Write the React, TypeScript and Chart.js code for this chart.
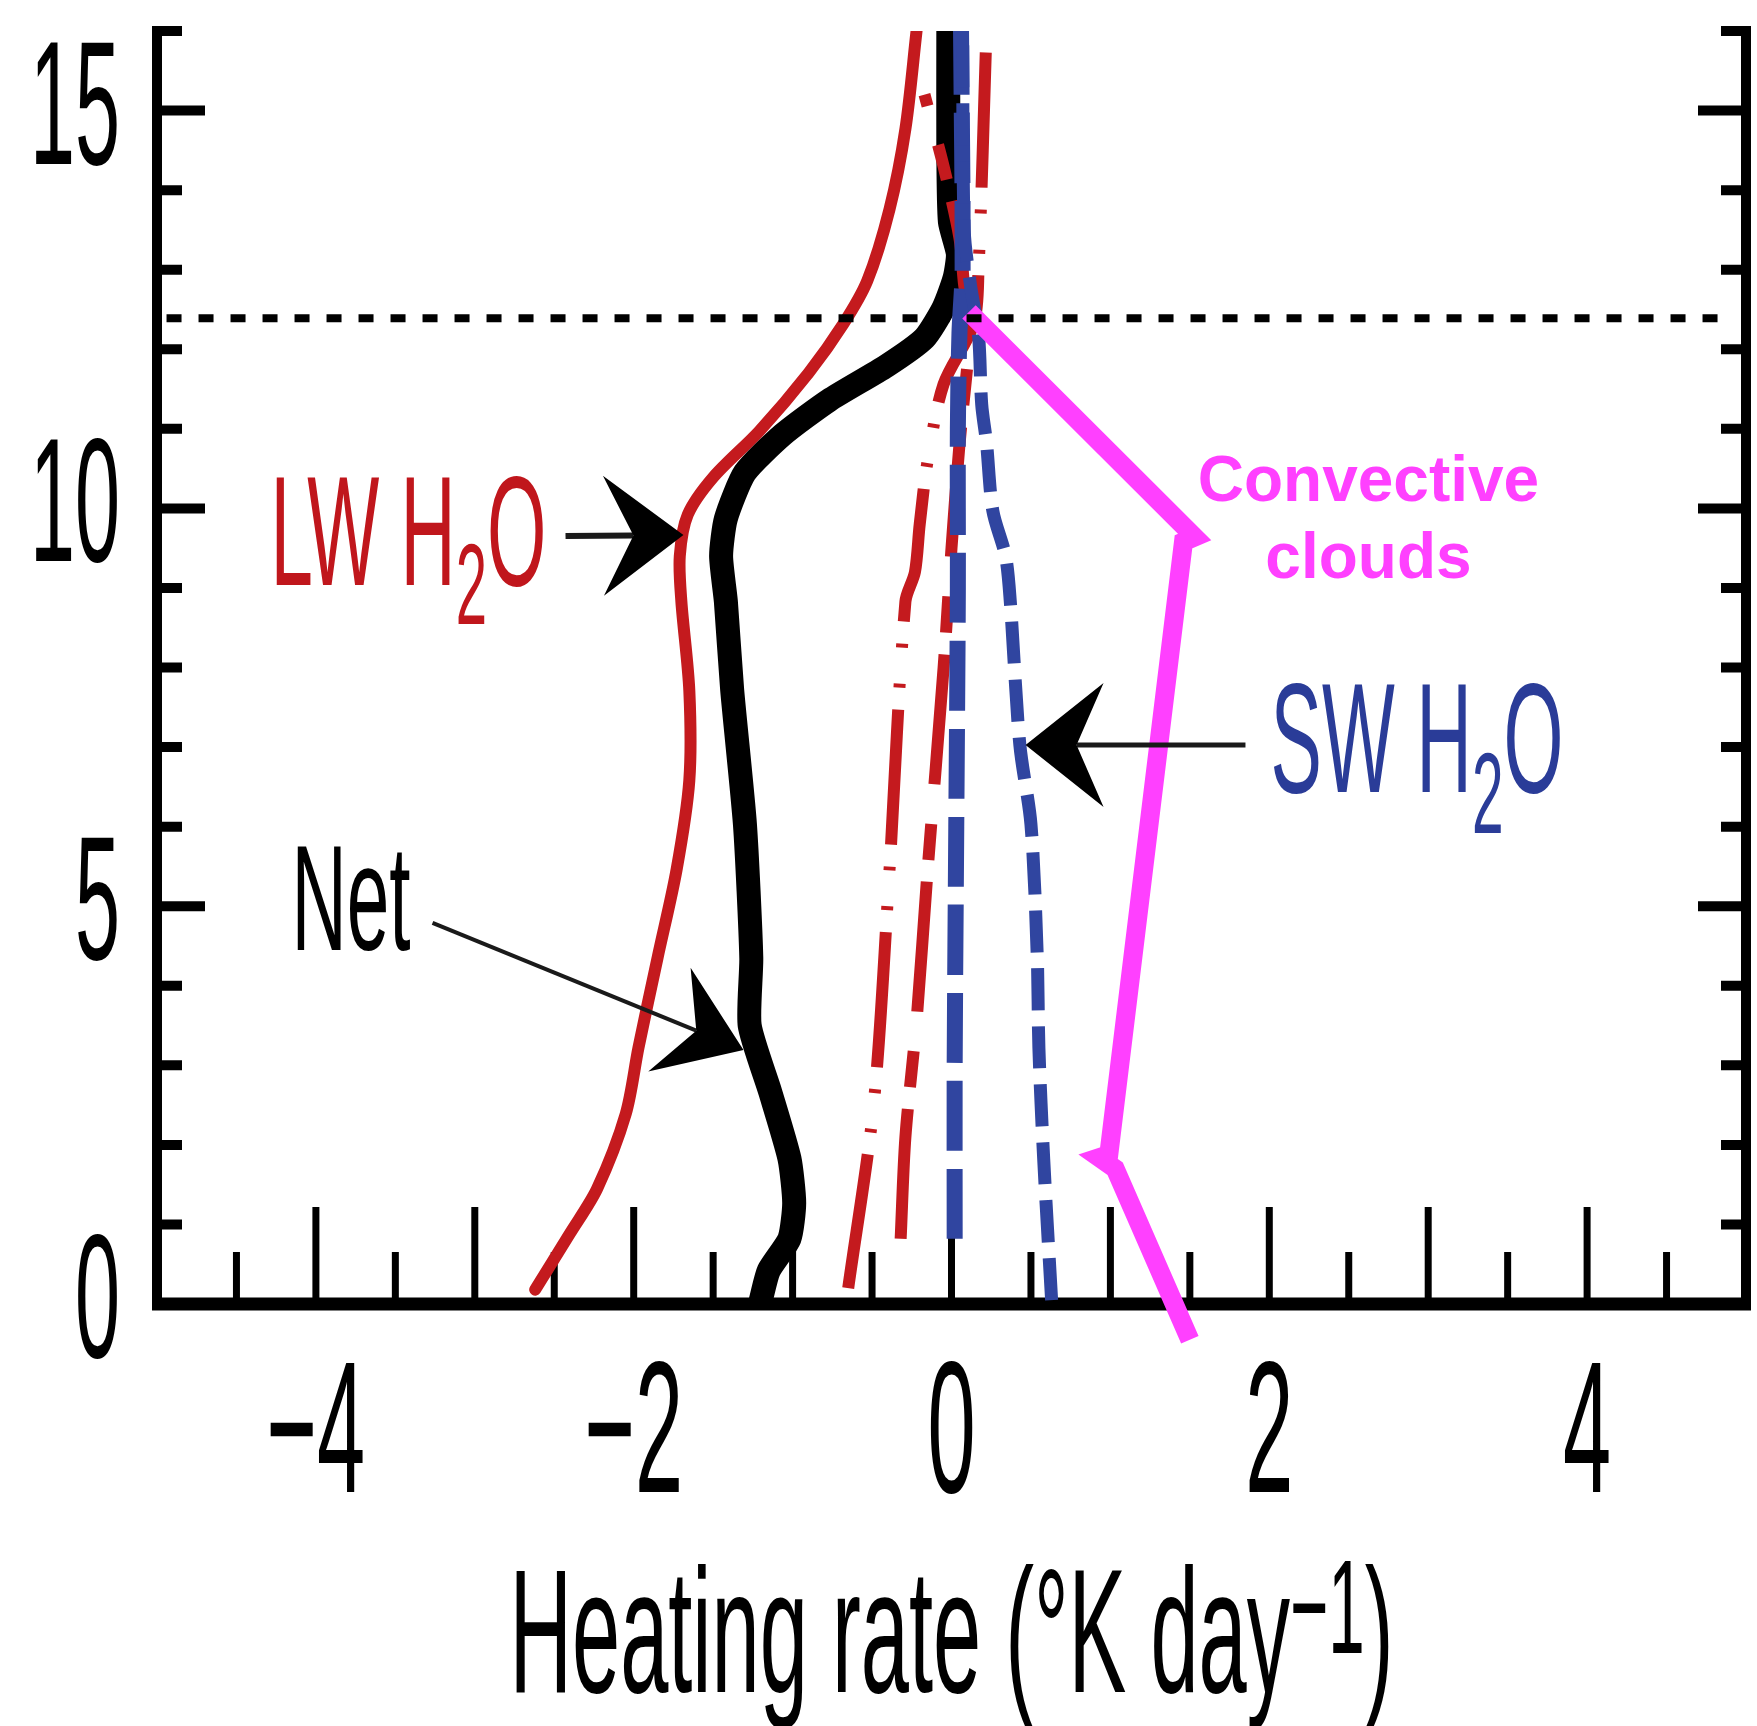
import React, { useEffect, useRef } from "react";
import { Chart, registerables } from "chart.js";

Chart.register(...registerables);

const W = 1757;
const H = 1726;

// ---------- axis ranges & ticks ----------
const X_RANGE = [-5, 5];
const Y_RANGE = [0, 16];
const X_TICK_LABELS = [-4, -2, 0, 2, 4];
const Y_TICK_LABELS = [0, 5, 10, 15];
const X_MINOR_TICKS = [-4.5, -4, -3.5, -3, -2.5, -2, -1.5, -1, -0.5, 0, 0.5, 1, 1.5, 2, 2.5, 3, 3.5, 4, 4.5];
const Y_MINOR_TICKS = [1, 2, 3, 4, 5, 6, 7, 8, 9, 10, 11, 12, 13, 14, 15, 16];
const X_TITLE = "Heating rate (°K day";
const X_TITLE_SUP = "−1";

// ---------- series: [heating rate, altitude km] ----------
const LW_H2O: [number, number][] = [
  [-2.62, 0.18], [-2.4, 0.89], [-2.23, 1.45], [-2.05, 2.39], [-1.97, 3.22], [-1.85, 4.35],
  [-1.73, 5.46], [-1.65, 6.58], [-1.65, 7.71], [-1.7, 8.83], [-1.71, 9.4], [-1.66, 9.92],
  [-1.5, 10.39], [-1.21, 10.97], [-0.9, 11.7], [-0.68, 12.32], [-0.53, 12.86], [-0.39, 13.76],
  [-0.29, 14.77], [-0.22, 16.0],
];
const NET: [number, number][] = [
  [-1.2, 0.05], [-1.15, 0.42], [-1.02, 0.82], [-0.99, 1.27], [-1.02, 1.83], [-1.14, 2.66],
  [-1.27, 3.5], [-1.26, 4.35], [-1.3, 6.03], [-1.38, 7.71], [-1.42, 8.83], [-1.45, 9.4],
  [-1.42, 9.87], [-1.3, 10.45], [-1.06, 10.93], [-0.77, 11.36], [-0.41, 11.79], [-0.17, 12.14],
  [-0.05, 12.52], [0.02, 12.9], [0.04, 13.2], [-0.01, 13.6], [-0.02, 14.5], [-0.02, 16.0],
];
const SW_H2O: [number, number][] = [
  [0.63, 0.05], [0.58, 1.83], [0.55, 3.22], [0.54, 4.35], [0.5, 6.03], [0.43, 7.03],
  [0.37, 8.83], [0.34, 9.4], [0.26, 9.97], [0.22, 10.83], [0.19, 11.31], [0.17, 12.18],
  [0.12, 12.8], [0.08, 13.5], [0.07, 16.0],
];
const SW_OTHER: [number, number][] = [
  [0.02, 0.82], [0.02, 3.0], [0.03, 6.0], [0.04, 9.0], [0.04, 11.0], [0.05, 12.2],
  [0.07, 13.0], [0.06, 16.0],
];
const LW_OTHER_A: [number, number][] = [
  [-0.65, 0.2], [-0.49, 2.5], [-0.39, 5.46], [-0.29, 8.83], [-0.23, 9.2], [-0.2, 9.8],
  [-0.15, 10.6], [-0.05, 11.56], [0.14, 12.32], [0.17, 13.0], [0.22, 16.0],
];
const LW_OTHER_B: [number, number][] = [
  [-0.32, 0.82], [-0.29, 2.1], [-0.22, 3.56], [-0.15, 5.46], [-0.05, 7.99], [0.0, 9.5],
  [0.05, 10.8], [0.1, 11.8], [0.12, 12.3], [0.08, 12.8], [0.05, 13.4], [-0.05, 14.3],
  [-0.17, 15.2],
];
const CONVECTIVE: [number, number][] = [
  [0.11, 12.47], [1.53, 9.64], [1.46, 9.58], [0.99, 1.88], [0.93, 1.84], [1.03, 1.7], [1.5, -0.45],
];
const TROPOPAUSE: [number, number][] = [[-4.94, 12.39], [4.83, 12.39]];

// ---------- annotations (data coords) ----------
const LW_LABEL_AT = [-4.286, 9.04];
const SW_LABEL_AT = [2.008, 6.435];
const NET_LABEL_AT = [-4.154, 4.449];
const CONV_LABEL_AT = [2.624, 10.09, 9.125];
const LW_ARROW = [[-2.429, 9.653], [-1.687, 9.666]];
const NET_ARROW = [[-3.266, 4.789], [-1.309, 3.193]];
const SW_ARROW = [[1.85, 7.026], [0.466, 7.026]];

const RED = "#c41a1e";
const RED_TXT = "#c0161c";
const BLUE = "#3045a0";
const BLUE_TXT = "#2a3c98";
const MAGENTA = "#ff40ff";
const FONT = '"Liberation Sans", Arial, Helvetica, sans-serif';

type Part = { t: string; size: number; dy?: number; weight?: string };

function measureParts(ctx: CanvasRenderingContext2D, parts: Part[]) {
  return parts.map((p) => {
    ctx.font = `${p.weight || "normal"} ${p.size}px ${FONT}`;
    return ctx.measureText(p.t).width;
  });
}

function drawParts(
  ctx: CanvasRenderingContext2D,
  parts: Part[],
  x: number,
  y: number,
  opts: { sx?: number; fitWidth?: number; align?: "left" | "center" | "right"; color: string }
) {
  const widths = measureParts(ctx, parts);
  const total = widths.reduce((a, b) => a + b, 0);
  const sx = opts.fitWidth ? opts.fitWidth / total : opts.sx ?? 1;
  const align = opts.align || "left";
  ctx.save();
  ctx.translate(x, y);
  ctx.scale(sx, 1);
  let cx = align === "left" ? 0 : align === "center" ? -total / 2 : -total;
  ctx.textAlign = "left";
  ctx.textBaseline = "alphabetic";
  ctx.fillStyle = opts.color;
  parts.forEach((p, i) => {
    ctx.font = `${p.weight || "normal"} ${p.size}px ${FONT}`;
    ctx.fillText(p.t, cx, p.dy || 0);
    cx += widths[i];
  });
  ctx.restore();
}

function drawArrow(
  ctx: CanvasRenderingContext2D,
  x0: number, y0: number, x1: number, y1: number,
  len: number, half: number, notch: number, lw: number
) {
  const dx = x1 - x0, dy = y1 - y0;
  const L = Math.hypot(dx, dy);
  const ux = dx / L, uy = dy / L, px = -uy, py = ux;
  ctx.save();
  ctx.strokeStyle = "#1a1a1a";
  ctx.lineWidth = lw;
  ctx.beginPath();
  ctx.moveTo(x0, y0);
  ctx.lineTo(x1 - ux * notch, y1 - uy * notch);
  ctx.stroke();
  ctx.fillStyle = "#000";
  ctx.beginPath();
  ctx.moveTo(x1, y1);
  ctx.lineTo(x1 - ux * len + px * half, y1 - uy * len + py * half);
  ctx.lineTo(x1 - ux * notch, y1 - uy * notch);
  ctx.lineTo(x1 - ux * len - px * half, y1 - uy * len - py * half);
  ctx.closePath();
  ctx.fill();
  ctx.restore();
}

const axesPlugin = {
  id: "axesDecor",
  beforeDatasetsDraw(chart: any) {
    const { ctx, scales } = chart;
    const xs = scales.x, ys = scales.y;
    const left = xs.getPixelForValue(X_RANGE[0]);
    const right = xs.getPixelForValue(X_RANGE[1]);
    const bottom = ys.getPixelForValue(Y_RANGE[0]);
    const top = ys.getPixelForValue(Y_RANGE[1]);
    ctx.save();
    ctx.strokeStyle = "#000";
    ctx.lineCap = "butt";
    ctx.lineWidth = 10;
    ctx.beginPath();
    ctx.moveTo(left, top - 5);
    ctx.lineTo(left, bottom);
    ctx.moveTo(right, top - 5);
    ctx.lineTo(right, bottom);
    ctx.stroke();
    Y_MINOR_TICKS.forEach((v) => {
      const py = ys.getPixelForValue(v);
      const major = v % 5 === 0;
      const len = major ? 48 : 25;
      ctx.lineWidth = 10;
      ctx.beginPath();
      ctx.moveTo(left, py);
      ctx.lineTo(left + len, py);
      ctx.moveTo(right, py);
      ctx.lineTo(right - len, py);
      ctx.stroke();
    });
    X_MINOR_TICKS.forEach((v) => {
      const px = xs.getPixelForValue(v);
      const major = Number.isInteger(v);
      ctx.lineWidth = 7;
      ctx.beginPath();
      ctx.moveTo(px, bottom);
      ctx.lineTo(px, bottom - (major ? 97 : 52));
      ctx.stroke();
    });
    ctx.lineWidth = 13;
    ctx.beginPath();
    ctx.moveTo(left - 5, bottom);
    ctx.lineTo(right + 5, bottom);
    ctx.stroke();
    ctx.restore();

    X_TICK_LABELS.forEach((v) => {
      const label = v < 0 ? "−" + Math.abs(v) : String(v);
      drawParts(ctx, [{ t: label, size: 188 }], xs.getPixelForValue(v), bottom + 188, {
        sx: 0.46, align: "center", color: "#000",
      });
    });
    Y_TICK_LABELS.forEach((v) => {
      drawParts(ctx, [{ t: String(v), size: 176 }], left - 37, ys.getPixelForValue(v) + 53, {
        sx: 0.46, align: "right", color: "#000",
      });
    });
    drawParts(
      ctx,
      [
        { t: X_TITLE, size: 177 },
        { t: X_TITLE_SUP, size: 134, dy: -39 },
        { t: ")", size: 177 },
      ],
      xs.getPixelForValue(0),
      bottom + 388,
      { fitWidth: 884, align: "center", color: "#000" }
    );
  },
  afterDatasetsDraw(chart: any) {
    const { ctx, scales } = chart;
    const xs = scales.x, ys = scales.y;
    const P = (p: number[]) => [xs.getPixelForValue(p[0]), ys.getPixelForValue(p[1])];

    let [lx, ly] = P(LW_LABEL_AT);
    drawParts(
      ctx,
      [{ t: "LW H", size: 156 }, { t: "2", size: 115, dy: 39 }, { t: "O", size: 156 }],
      lx, ly, { fitWidth: 276, color: RED_TXT }
    );
    [lx, ly] = P(SW_LABEL_AT);
    drawParts(
      ctx,
      [{ t: "SW H", size: 156 }, { t: "2", size: 115, dy: 41 }, { t: "O", size: 156 }],
      lx, ly, { fitWidth: 293, color: BLUE_TXT }
    );
    [lx, ly] = P(NET_LABEL_AT);
    drawParts(ctx, [{ t: "Net", size: 151 }], lx, ly, { fitWidth: 119, color: "#000" });

    const cx = xs.getPixelForValue(CONV_LABEL_AT[0]);
    drawParts(ctx, [{ t: "Convective", size: 64, weight: "bold" }], cx, ys.getPixelForValue(CONV_LABEL_AT[1]), {
      sx: 1, align: "center", color: MAGENTA,
    });
    drawParts(ctx, [{ t: "clouds", size: 64, weight: "bold" }], cx, ys.getPixelForValue(CONV_LABEL_AT[2]), {
      sx: 1, align: "center", color: MAGENTA,
    });

    let [a0x, a0y] = P(LW_ARROW[0]);
    let [a1x, a1y] = P(LW_ARROW[1]);
    drawArrow(ctx, a0x, a0y, a1x, a1y, 80, 60, 50, 6);
    [a0x, a0y] = P(NET_ARROW[0]);
    [a1x, a1y] = P(NET_ARROW[1]);
    drawArrow(ctx, a0x, a0y, a1x, a1y, 80, 56, 51, 4);
    [a0x, a0y] = P(SW_ARROW[0]);
    [a1x, a1y] = P(SW_ARROW[1]);
    drawArrow(ctx, a0x, a0y, a1x, a1y, 78, 62, 51, 5);
  },
};

const toXY = (arr: [number, number][]) => arr.map(([x, y]) => ({ x, y }));

export default function App() {
  const ref = useRef<HTMLCanvasElement | null>(null);

  useEffect(() => {
    if (!ref.current) return;
    const base = { showLine: true, pointRadius: 0, fill: false, borderCapStyle: "butt" as const };
    const chart = new Chart(ref.current, {
      type: "scatter",
      data: {
        datasets: [
          {
            ...base, label: "Tropopause", data: toXY(TROPOPAUSE), borderColor: "#000",
            borderWidth: 8, borderDash: [15, 17], tension: 0,
          },
          {
            ...base, label: "Convective clouds", data: toXY(CONVECTIVE), borderColor: MAGENTA,
            borderWidth: 19, tension: 0, clip: false, borderJoinStyle: "miter" as const,
          },
          {
            ...base, label: "SW H2O", data: toXY(SW_H2O), borderColor: BLUE,
            borderWidth: 13, borderDash: [42, 16], tension: 0.3,
          },
          {
            ...base, label: "SW other", data: toXY(SW_OTHER), borderColor: BLUE,
            borderWidth: 16, borderDash: [70, 18], tension: 0.3,
          },
          {
            ...base, label: "LW other A", data: toXY(LW_OTHER_A), borderColor: RED,
            borderWidth: 12, borderDash: [135, 22, 4, 36, 4, 22], tension: 0.3,
          },
          {
            ...base, label: "LW other B", data: toXY(LW_OTHER_B), borderColor: RED,
            borderWidth: 12, borderDash: [130, 22, 36, 40], tension: 0.3,
          },
          {
            ...base, label: "Net", data: toXY(NET), borderColor: "#000",
            borderWidth: 24, tension: 0.2, borderCapStyle: "round" as const,
          },
          {
            ...base, label: "LW H2O", data: toXY(LW_H2O), borderColor: RED,
            borderWidth: 12, tension: 0.3, borderCapStyle: "round" as const,
          },
        ],
      },
      options: {
        animation: false,
        responsive: false,
        devicePixelRatio: 1,
        layout: { padding: { left: 157, right: 11, top: 31, bottom: 422 } },
        plugins: { legend: { display: false }, tooltip: { enabled: false } },
        scales: {
          x: { type: "linear", min: X_RANGE[0], max: X_RANGE[1], display: false },
          y: { type: "linear", min: Y_RANGE[0], max: Y_RANGE[1], display: false },
        },
        elements: { point: { radius: 0 } },
      },
      plugins: [axesPlugin],
    });
    return () => chart.destroy();
  }, []);

  return (
    <div style={{ position: "absolute", left: 0, top: 0, width: W, height: H, background: "#fff", overflow: "hidden" }}>
      <canvas ref={ref} width={W} height={H} style={{ display: "block", width: W, height: H }} />
    </div>
  );
}
